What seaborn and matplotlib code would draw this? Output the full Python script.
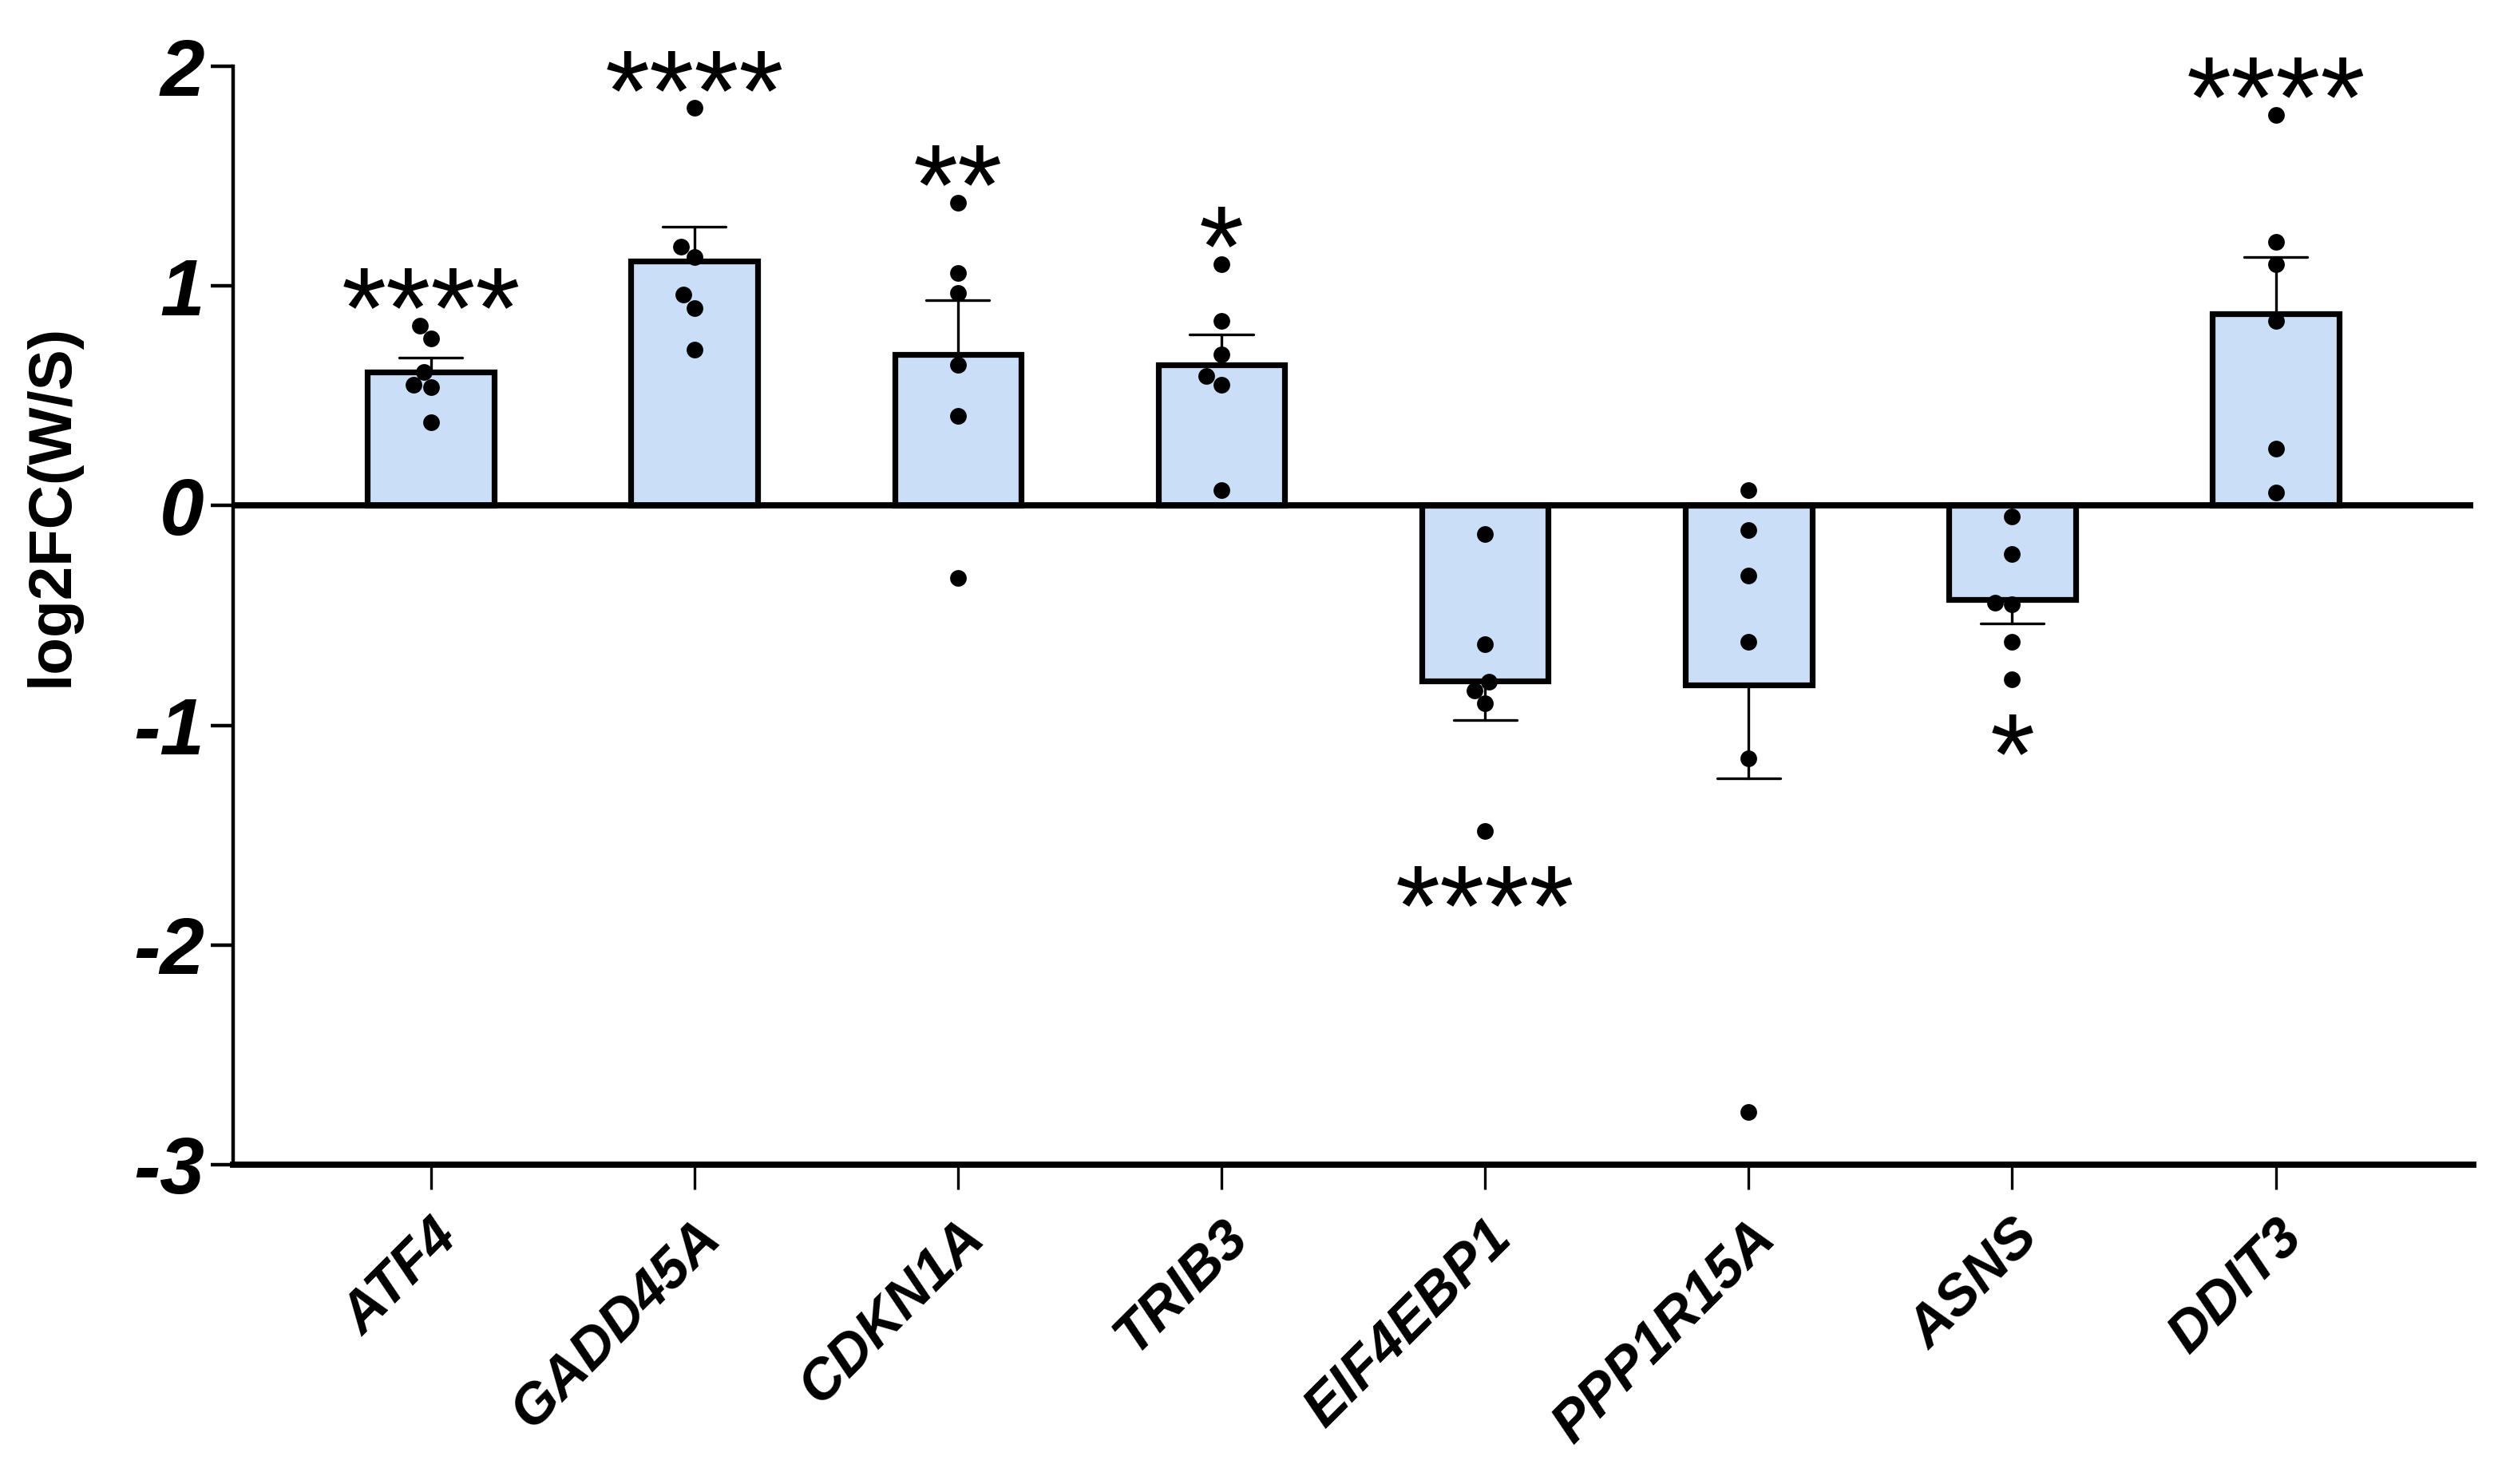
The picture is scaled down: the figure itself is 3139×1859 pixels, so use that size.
import matplotlib
matplotlib.use("Agg")
import matplotlib.pyplot as plt
import seaborn as sns
import numpy as np
import pandas as pd

# values (log2 fold change, 6 replicates per gene)
genes = ["ATF4", "GADD45A", "CDKN1A", "TRIB3", "EIF4EBP1", "PPP1R15A", "ASNS", "DDIT3"]
atf4 = [0.82, 0.76, 0.61, 0.55, 0.54, 0.38]
gadd45a = [1.81, 1.18, 1.13, 0.96, 0.90, 0.71]
cdkn1a = [1.38, 1.06, 0.97, 0.64, 0.41, -0.33]
trib3 = [1.10, 0.84, 0.69, 0.59, 0.55, 0.07]
eif4ebp1 = [-0.13, -0.63, -0.80, -0.84, -0.90, -1.48]
ppp1r15a = [0.07, -0.11, -0.32, -0.62, -1.15, -2.76]
asns = [-0.05, -0.22, -0.44, -0.45, -0.62, -0.79]
ddit3 = [1.78, 1.20, 1.10, 0.84, 0.26, 0.06]
stars = ["****", "****", "**", "*", "****", "", "*", "****"]

series = [atf4, gadd45a, cdkn1a, trib3, eif4ebp1, ppp1r15a, asns, ddit3]
df = pd.DataFrame({
    "gene": [g for g, vals in zip(genes, series) for _ in vals],
    "value": [v for vals in series for v in vals],
})

sns.set_theme(style="ticks")
plt.rcParams["font.family"] = ["Liberation Sans", "DejaVu Sans"]
plt.rcParams["axes.unicode_minus"] = False
plt.rcParams["text.color"] = "black"
plt.rcParams["axes.labelcolor"] = "black"
plt.rcParams["xtick.color"] = "black"
plt.rcParams["ytick.color"] = "black"
plt.rcParams["axes.edgecolor"] = "black"

fig = plt.figure(figsize=(3139 / 200, 1859 / 200), dpi=200)
ax = fig.add_axes([0.093, 0.2152, 0.894, 0.7401])

sns.barplot(data=df, x="gene", y="value", order=genes, errorbar="se",
            capsize=0.24, width=0.48, color="#CADFF7", saturation=1,
            edgecolor="black", linewidth=2.6,
            err_kws={"color": "black", "linewidth": 1.2}, ax=ax)
# one-sided error bars: hide the inner half behind the bar fill
for line in ax.lines:
    line.set_zorder(0.5)

sns.swarmplot(data=df, x="gene", y="value", order=genes, color="black",
              size=7.5, ax=ax, zorder=3)

ax.axhline(0, color="black", lw=2.8, zorder=2)

ax.set_xlim(-0.75, 7.75)
ax.set_ylim(-3, 2)
ax.set_yticks([-3, -2, -1, 0, 1, 2])
sns.despine(ax=ax)
ax.spines["left"].set_linewidth(1.6)
ax.spines["bottom"].set_linewidth(2.8)
ax.tick_params(axis="x", length=11, width=1.2, pad=10)
ax.tick_params(axis="y", length=10, width=1.6, pad=3)

for lab in ax.get_yticklabels():
    lab.set_fontsize(36)
    lab.set_fontweight("bold")
    lab.set_fontstyle("italic")
ax.set_xticks(range(len(genes)))
ax.set_xticklabels(genes, rotation=45, ha="right", rotation_mode="anchor",
                   fontsize=25.5, fontweight="bold", fontstyle="italic")
ax.set_xlabel("")
ax.set_ylabel("log2FC(W/S)", fontsize=27.5, fontweight="bold")
ax.yaxis.set_label_coords(-0.068, 0.6)

# significance stars beyond the most extreme point
grp = df.groupby("gene")["value"]
for i, g in enumerate(genes):
    if not stars[i]:
        continue
    if grp.mean()[g] > 0:
        y = grp.max()[g] + 0.21 - 0.31
    else:
        y = grp.min()[g] - 0.21 - 0.31
    ax.text(i, y, stars[i], ha="center", va="baseline", fontsize=52,
            color="black", clip_on=False, zorder=4)

fig.savefig("out.png", dpi=200)
